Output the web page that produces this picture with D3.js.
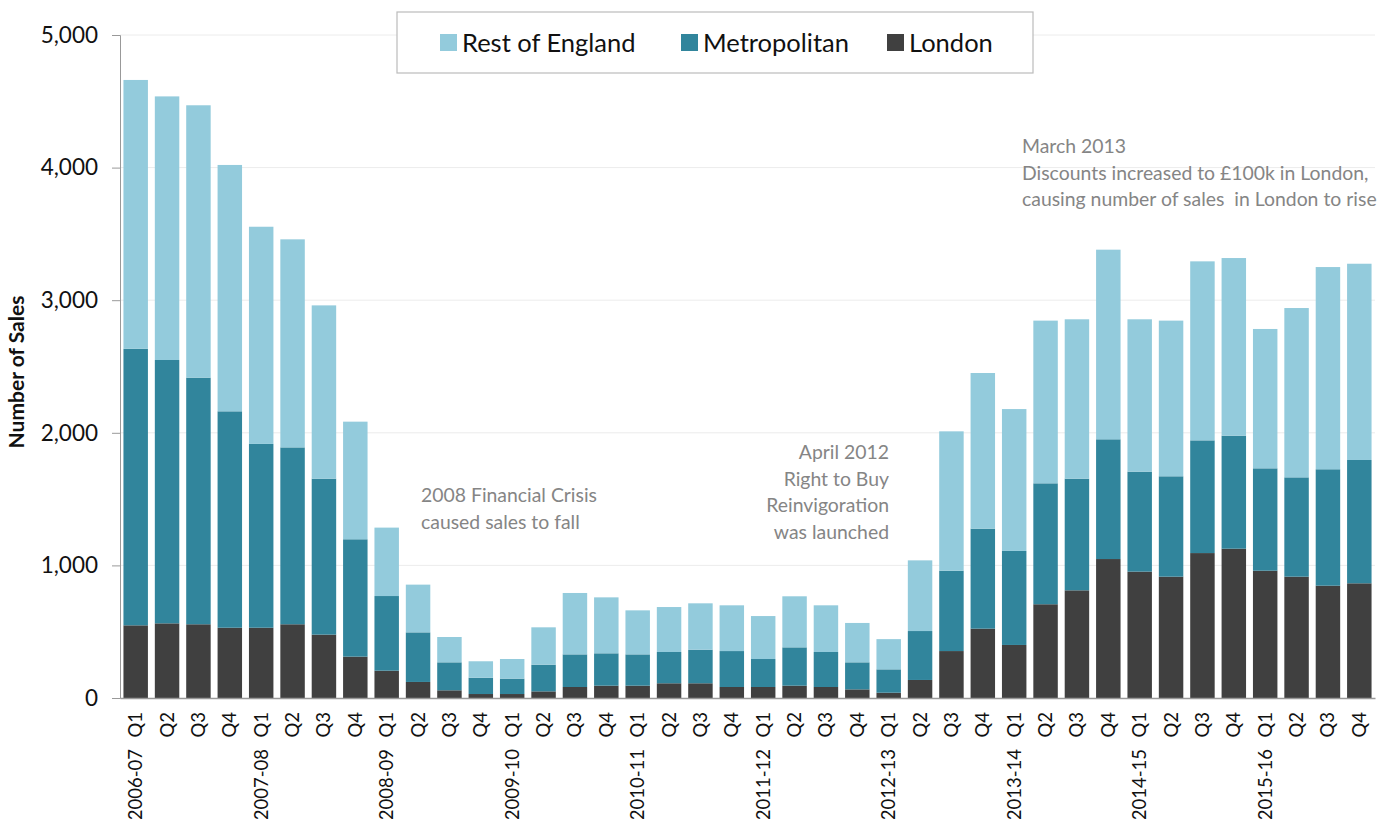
<!DOCTYPE html>
<html>
<head>
<meta charset="utf-8">
<script src="https://cdn.jsdelivr.net/npm/d3@7"></script>
<style>
  body { margin: 0; background: #fff; }
  text { font-family: Lato, "Open Sans", sans-serif; }
</style>
</head>
<body>
<div id="chart-container"></div>
<script>
// Quarter labels and financial years
const quarters = [];
const years = ["2006-07", "2007-08", "2008-09", "2009-10", "2010-11",
  "2011-12", "2012-13", "2013-14", "2014-15", "2015-16"];
years.forEach(yr => ["Q1", "Q2", "Q3", "Q4"].forEach(q => quarters.push(yr + " " + q)));

// Number of sales per region
const london = [548, 563, 556, 530, 530, 556, 478, 312, 206, 121, 58, 30, 30, 50, 83, 93,
  93, 111, 111, 83, 83, 93, 83, 65, 40, 136, 354, 523, 400, 707, 812, 1048,
  953, 915, 1093, 1126, 960, 915, 847, 865];
const metropolitan = [2086, 1986, 1860, 1632, 1386, 1334, 1176, 885, 563, 374, 211, 123, 116, 201, 246, 244,
  236, 236, 253, 271, 211, 289, 264, 204, 176, 369, 606, 754, 709, 912, 842, 903,
  754, 757, 850, 852, 772, 749, 878, 930];
const restOfEngland = [2027, 1988, 2054, 1858, 1638, 1569, 1307, 887, 516, 360, 191, 124, 148, 282, 463, 422,
  332, 339, 350, 345, 324, 385, 352, 297, 228, 533, 1051, 1174, 1070, 1227, 1202, 1430,
  1149, 1174, 1350, 1340, 1051, 1277, 1525, 1480];

const yTicks = [0, 1000, 2000, 3000, 4000, 5000];

const series = [
  { key: "rest", label: "Rest of England", color: "#93cbdc" },
  { key: "metro", label: "Metropolitan", color: "#31859c" },
  { key: "london", label: "London", color: "#404040" }
];

const data = quarters.map((q, i) => ({
  quarter: q,
  london: london[i],
  metro: metropolitan[i],
  rest: restOfEngland[i]
}));

const W = 1386, H = 819;
const margin = { top: 35, right: 11, bottom: 121, left: 120 };
const width = W - margin.left - margin.right;
const height = H - margin.top - margin.bottom;

const svg = d3.select("#chart-container")
  .append("svg")
  .attr("width", W)
  .attr("height", H);

const g = svg.append("g")
  .attr("transform", `translate(${margin.left},${margin.top})`);

const x = d3.scaleBand()
  .domain(quarters)
  .range([0, width])
  .paddingInner(0.22)
  .paddingOuter(0.11);

const y = d3.scaleLinear()
  .domain([0, 5000])
  .range([height, 0]);

// Horizontal gridlines
g.selectAll(".grid")
  .data(yTicks.slice(1))
  .join("line")
  .attr("x1", 0)
  .attr("x2", width)
  .attr("y1", d => y(d))
  .attr("y2", d => y(d))
  .attr("stroke", "#ececec")
  .attr("stroke-width", 1);

// Stacked bars
const stack = d3.stack().keys(["london", "metro", "rest"]);
const stacked = stack(data);
const colorOf = k => series.find(s => s.key === k).color;

g.selectAll(".layer")
  .data(stacked)
  .join("g")
  .attr("fill", d => colorOf(d.key))
  .selectAll("rect")
  .data(d => d)
  .join("rect")
  .attr("x", d => x(d.data.quarter))
  .attr("width", x.bandwidth())
  .attr("y", d => y(d[1]))
  .attr("height", d => y(d[0]) - y(d[1]));

// Y axis
g.append("g")
  .call(d3.axisLeft(y)
    .tickValues(yTicks)
    .tickFormat(d3.format(","))
    .tickSize(8)
    .tickPadding(14))
  .call(ax => ax.select(".domain").attr("stroke", "#999"))
  .call(ax => ax.selectAll(".tick line").attr("stroke", "#999"))
  .selectAll(".tick text")
  .style("font-size", "22.5px")
  .style("font-family", "Lato, sans-serif")
  .attr("fill", "#111");

// X axis
const xAxis = g.append("g")
  .attr("transform", `translate(0,${height})`)
  .call(d3.axisBottom(x).tickSize(0).tickFormat(d => d.split(" ")[1]))
  .call(ax => ax.select(".domain").attr("stroke", "#999").attr("stroke-width", 1.5));

xAxis.selectAll(".tick text")
  .attr("transform", "rotate(-90)")
  .attr("x", -14)
  .attr("y", 0)
  .attr("dy", "0.35em")
  .style("text-anchor", "end")
  .style("font-size", "18.5px")
  .style("font-family", "Lato, sans-serif")
  .attr("fill", "#111");

// Financial year labels under each Q1
xAxis.selectAll(".tick")
  .filter(d => d.endsWith("Q1"))
  .append("text")
  .attr("transform", "rotate(-90)")
  .attr("x", -51)
  .attr("y", 0)
  .attr("dy", "0.35em")
  .style("text-anchor", "end")
  .style("font-size", "18.5px")
  .style("font-family", "Lato, sans-serif")
  .attr("fill", "#111")
  .text(d => d.split(" ")[0]);

// Y-axis label
svg.append("text")
  .attr("transform", `translate(24,${margin.top + 337}) rotate(-90)`)
  .style("text-anchor", "middle")
  .style("font-size", "21px")
  .style("font-weight", "bold")
  .attr("fill", "#111")
  .text("Number of Sales");

// Legend
const legend = svg.append("g");
legend.append("rect")
  .attr("x", 397)
  .attr("y", 12)
  .attr("width", 636)
  .attr("height", 61)
  .attr("fill", "#fff")
  .attr("stroke", "#bbb")
  .attr("stroke-width", 1.2);

const legendX = [440, 681, 887];
series.forEach((s, i) => {
  legend.append("rect")
    .attr("x", legendX[i])
    .attr("y", 34)
    .attr("width", 17)
    .attr("height", 17)
    .attr("fill", s.color);
  legend.append("text")
    .attr("x", legendX[i] + 22)
    .attr("y", 43)
    .attr("dy", "0.35em")
    .style("font-size", "25.5px")
    .attr("fill", "#111")
    .text(s.label);
});

// Annotations
const notes = [
  { x: 421, y: 495, anchor: "start", lines: ["2008 Financial Crisis", "caused sales to fall"] },
  { x: 889, y: 452, anchor: "end", lines: ["April 2012", "Right to Buy", "Reinvigoration", "was launched"] },
  { x: 1022, y: 146, anchor: "start", lines: ["March 2013", "Discounts increased to \u00a3100k in London,", "causing number of sales  in London to rise"] }
];

notes.forEach(n => {
  const t = svg.append("text")
    .attr("x", n.x)
    .attr("y", n.y)
    .style("text-anchor", n.anchor)
    .style("font-size", "19.4px")
    .style("white-space", "pre")
    .attr("fill", "#858585");
  n.lines.forEach((l, i) => {
    t.append("tspan")
      .attr("x", n.x)
      .attr("y", n.y + i * 26.8)
      .attr("dy", "0.35em")
      .text(l);
  });
});
</script>
</body>
</html>
